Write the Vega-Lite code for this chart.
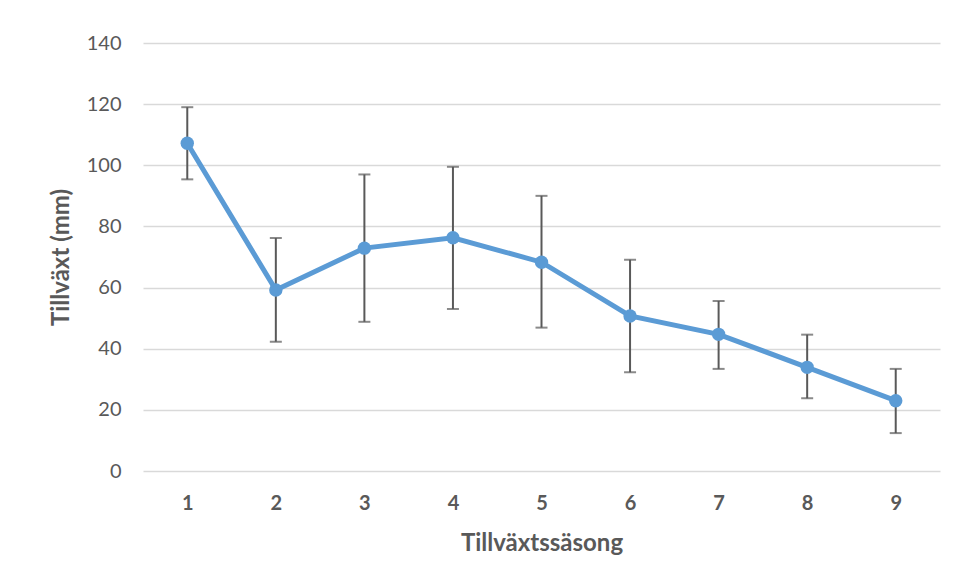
{
  "$schema": "https://vega.github.io/schema/vega-lite/v6.json",
  "width": 797,
  "height": 428,
  "autosize": {"type": "none"},
  "padding": {"left": 143, "top": 43, "right": 20, "bottom": 108},
  "background": "white",
  "config": {
    "view": {"stroke": null},
    "font": "Lato",
    "axis": {"labelFont": "Lato", "titleFont": "Lato"}
  },
  "data": {
    "values": [
      {"season": 1, "mean": 107.2, "low": 95.4, "high": 119.0},
      {"season": 2, "mean": 59.2, "low": 42.3, "high": 76.2},
      {"season": 3, "mean": 72.9, "low": 48.8, "high": 97.0},
      {"season": 4, "mean": 76.3, "low": 53.0, "high": 99.5},
      {"season": 5, "mean": 68.3, "low": 46.9, "high": 90.0},
      {"season": 6, "mean": 50.7, "low": 32.3, "high": 69.1},
      {"season": 7, "mean": 44.7, "low": 33.4, "high": 55.6},
      {"season": 8, "mean": 33.9, "low": 23.8, "high": 44.6},
      {"season": 9, "mean": 23.0, "low": 12.4, "high": 33.4}
    ]
  },
  "encoding": {
    "x": {
      "field": "season",
      "type": "ordinal",
      "scale": {"type": "point", "padding": 0.5},
      "axis": {
        "title": "Tillväxtssäsong",
        "labelAngle": 0,
        "labelFontSize": 20,
        "labelFontWeight": "bold",
        "labelColor": "#595959",
        "labelPadding": 22,
        "titleFontSize": 24,
        "titleFontWeight": "bold",
        "titleColor": "#595959",
        "titlePadding": 18,
        "domain": false,
        "ticks": false,
        "grid": false
      }
    }
  },
  "layer": [
    {
      "mark": {"type": "rule", "color": "#595959", "strokeWidth": 2},
      "encoding": {
        "y": {
          "field": "low",
          "type": "quantitative",
          "scale": {"domain": [0, 140]},
          "axis": {
            "title": "Tillväxt (mm)",
            "values": [0, 20, 40, 60, 80, 100, 120, 140],
            "labelFontSize": 20,
            "labelColor": "#595959",
            "labelPadding": 22,
            "titleFontSize": 24,
            "titleFontWeight": "bold",
            "titleColor": "#595959",
            "titlePadding": 13,
            "domain": false,
            "ticks": false,
            "gridColor": "#d9d9d9",
            "gridWidth": 1.5
          }
        },
        "y2": {"field": "high"}
      }
    },
    {
      "mark": {"type": "tick", "color": "#595959", "thickness": 2, "size": 12, "orient": "horizontal"},
      "encoding": {"y": {"field": "low", "type": "quantitative"}}
    },
    {
      "mark": {"type": "tick", "color": "#595959", "thickness": 2, "size": 12, "orient": "horizontal"},
      "encoding": {"y": {"field": "high", "type": "quantitative"}}
    },
    {
      "mark": {"type": "line", "color": "#5b9bd5", "strokeWidth": 5, "point": {"filled": true, "size": 180, "color": "#5b9bd5", "opacity": 1}},
      "encoding": {"y": {"field": "mean", "type": "quantitative"}}
    }
  ]
}
